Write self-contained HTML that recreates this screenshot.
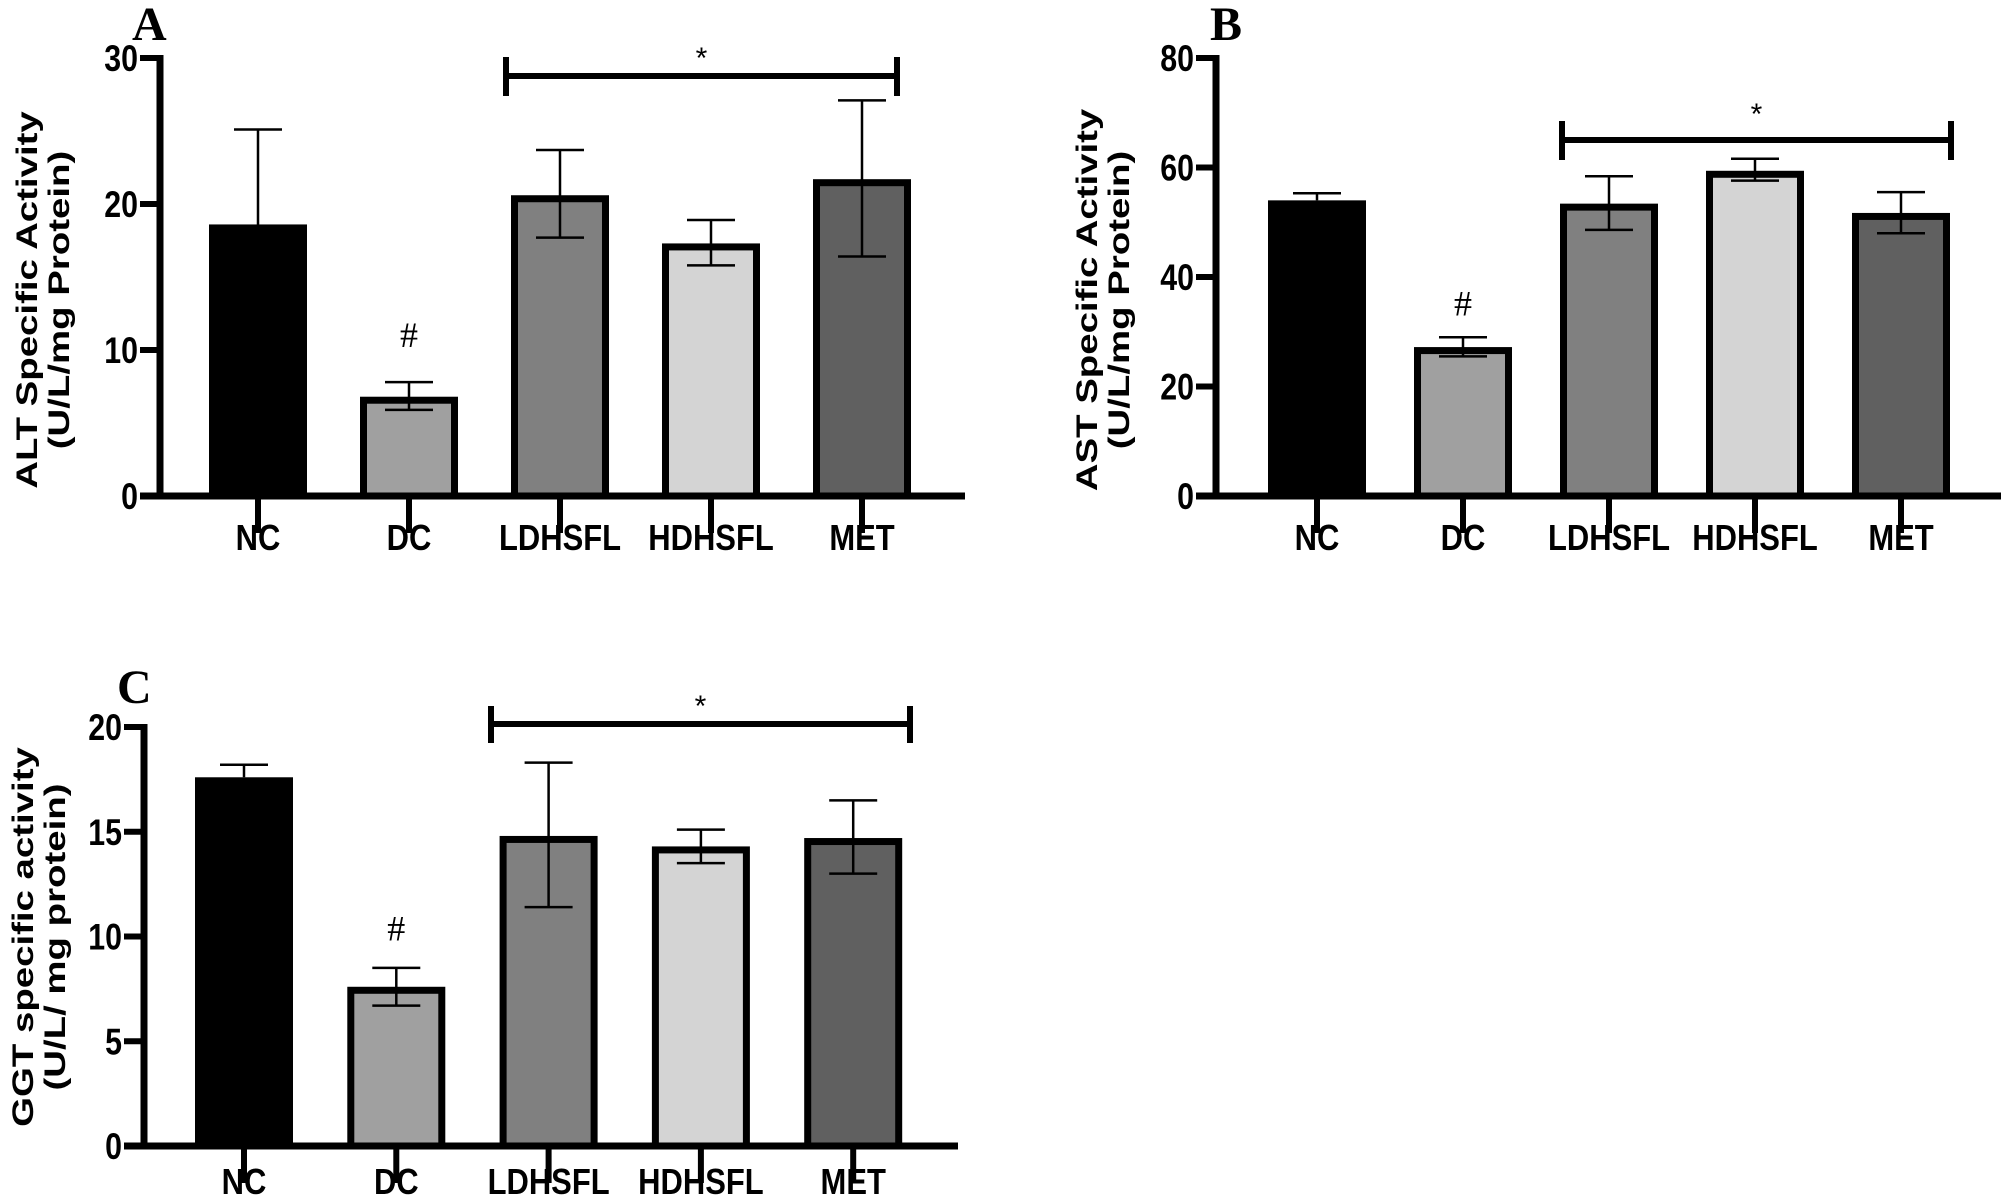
<!DOCTYPE html>
<html><head><meta charset="utf-8"><style>
html,body{margin:0;padding:0;background:#fff;}
svg{display:block;}
text{font-family:"Liberation Sans",Arial,sans-serif;font-weight:bold;fill:#000;}
.tick{font-size:37px;}
.cat{font-size:36px;}
.ylab{font-size:30px;}
.panel{font-family:"Liberation Serif",serif;font-size:48px;font-weight:bold;}
</style></head><body>
<svg id="fig" width="2001" height="1200" viewBox="0 0 2001 1200" xmlns="http://www.w3.org/2000/svg"></svg>
<script>
const categories = ["NC","DC","LDHSFL","HDHSFL","MET"];
const altMeans = [18.6, 6.8, 20.6, 17.3, 21.7];
const altUpper = [25.1, 7.8, 23.7, 18.9, 27.1];
const altLower = [null, 5.9, 17.7, 15.8, 16.4];
const altTicks = [0, 10, 20, 30];
const astMeans = [54.0, 27.2, 53.4, 59.4, 51.7];
const astUpper = [55.3, 29.0, 58.4, 61.6, 55.5];
const astLower = [null, 25.5, 48.6, 57.6, 48.0];
const astTicks = [0, 20, 40, 60, 80];
const ggtMeans = [17.6, 7.6, 14.8, 14.3, 14.7];
const ggtUpper = [18.2, 8.5, 18.3, 15.1, 16.5];
const ggtLower = [null, 6.7, 11.4, 13.5, 13.0];
const ggtTicks = [0, 5, 10, 15, 20];
const fills = ["#000000","#a0a0a0","#808080","#d4d4d4","#606060"];

const NS = "http://www.w3.org/2000/svg";
const svg = document.getElementById("fig");
function mk(tag, attrs, parent){
  const e = document.createElementNS(NS, tag);
  for (const k in attrs) e.setAttribute(k, attrs[k]);
  (parent||svg).appendChild(e);
  return e;
}

const panels = [
  {id:"alt", letter:"A", lx:132, ly:40, ax:160, y0:496, yT:58, yMax:30, xEnd:965, x0:258, step:151,
   means:altMeans, up:altUpper, lo:altLower, ticks:altTicks,
   title1:"ALT Specific Activity", title2:"(U/L/mg Protein)", t1x:26, t2x:58, ty:300,
   br:{x1:506,x2:897,y:76,t1:57,t2:96,sy:68}, hashTop:10.2, catY:550},
  {id:"ast", letter:"B", lx:1210, ly:40, ax:1216, y0:496, yT:58, yMax:80, xEnd:2001, x0:1317, step:146,
   means:astMeans, up:astUpper, lo:astLower, ticks:astTicks,
   title1:"AST Specific Activity", title2:"(U/L/mg Protein)", t1x:1086, t2x:1118, ty:300,
   br:{x1:1562,x2:1951,y:140,t1:121,t2:160,sy:124}, hashTop:33, catY:550},
  {id:"ggt", letter:"C", lx:117, ly:703, ax:144, y0:1146, yT:727, yMax:20, xEnd:958, x0:244, step:152.3,
   means:ggtMeans, up:ggtUpper, lo:ggtLower, ticks:ggtTicks,
   title1:"GGT specific activity", title2:"(U/L/ mg protein)", t1x:22, t2x:54, ty:937,
   br:{x1:491,x2:910,y:724,t1:706,t2:743,sy:716}, hashTop:9.8, catY:1194}
];

panels.forEach(p => {
  const g = mk("g", {});
  
  
  const yS = v => p.y0 - (v / p.yMax) * (p.y0 - p.yT);
  const xS = i => p.x0 + i * p.step;
  const bw = 98;

  const L = mk("text", {x:p.lx, y:p.ly, class:"panel"}, g);
  L.textContent = p.letter;
  
  

  const t1 = mk("text", {class:"ylab", "text-anchor":"middle", transform:`translate(${p.t1x+11},${p.ty}) rotate(-90) scale(1.28,1)`}, g);
  t1.textContent = p.title1;
  
  
  const t2 = mk("text", {class:"ylab", "text-anchor":"middle", transform:`translate(${p.t2x+11},${p.ty}) rotate(-90) scale(1.28,1)`}, g);
  t2.textContent = p.title2;
  
  

  p.means.forEach((v, i) => {
    const cx = xS(i);
    let r;
    if (i === 0) {
      r = mk("rect", {x:cx-bw/2, y:yS(v), width:bw, height:p.y0-yS(v), fill:fills[i]}, g);
    } else {
      r = mk("rect", {x:cx-bw/2+3.5, y:yS(v)+3.5, width:bw-7, height:p.y0-yS(v)-3.5, fill:fills[i], stroke:"#000", "stroke-width":7}, g);
    }
    
    
    const lo = p.lo[i] === null ? v : p.lo[i];
    const eb = mk("g", {stroke:"#000", "stroke-width":2.5}, g);
    
    
    mk("line", {x1:cx, x2:cx, y1:yS(p.up[i]), y2:yS(lo)}, eb);
    mk("line", {x1:cx-24, x2:cx+24, y1:yS(p.up[i]), y2:yS(p.up[i])}, eb);
    if (p.lo[i] !== null) mk("line", {x1:cx-24, x2:cx+24, y1:yS(lo), y2:yS(lo)}, eb);
    const tk = mk("line", {x1:cx, x2:cx, y1:p.y0, y2:p.y0+37, stroke:"#000", "stroke-width":6}, g);
    
    
    const ct = mk("text", {class:"cat", "text-anchor":"middle", transform:`translate(${cx},${p.catY}) scale(0.86,1)`}, g);
    ct.textContent = categories[i];
    
    
  });

  const h = mk("text", {x:xS(1), y:yS(p.hashTop), "text-anchor":"middle", style:"font-family:'Liberation Serif',serif;font-size:36px;font-weight:normal"}, g);
  h.textContent = "#";
  
  

  const ya = mk("line", {x1:p.ax, x2:p.ax, y1:p.yT-3, y2:p.y0+3, stroke:"#000", "stroke-width":7}, g);
  
  
  const xa = mk("line", {x1:p.ax-20, x2:p.xEnd, y1:p.y0, y2:p.y0, stroke:"#000", "stroke-width":7}, g);
  
  

  p.ticks.forEach(t => {
    const l = mk("line", {x1:p.ax-20, x2:p.ax, y1:yS(t), y2:yS(t), stroke:"#000", "stroke-width":6}, g);
    
    
    const tx = mk("text", {class:"tick", "text-anchor":"end", transform:`translate(${p.ax-22},${yS(t)+13}) scale(0.82,1)`}, g);
    tx.textContent = t;
    
    
  });

  const b = mk("g", {stroke:"#000", "stroke-width":6}, g);
  
  
  mk("line", {x1:p.br.x1, x2:p.br.x2, y1:p.br.y, y2:p.br.y}, b);
  mk("line", {x1:p.br.x1, x2:p.br.x1, y1:p.br.t1, y2:p.br.t2}, b);
  mk("line", {x1:p.br.x2, x2:p.br.x2, y1:p.br.t1, y2:p.br.t2}, b);
  const st = mk("text", {x:(p.br.x1+p.br.x2)/2, y:p.br.sy, "text-anchor":"middle", style:"font-size:30px;font-weight:normal"}, g);
  st.textContent = "*";
  
  
});
</script>
</body></html>
